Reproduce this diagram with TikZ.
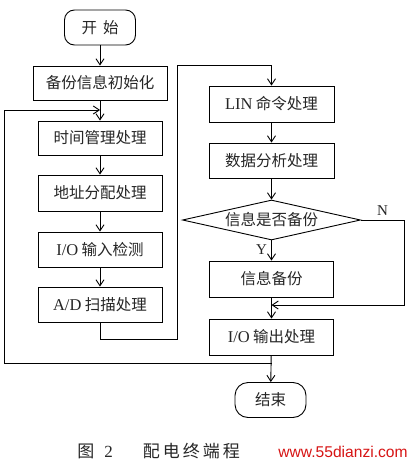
\documentclass[tikz,border=0pt]{standalone}
\usepackage{fontspec}
\setmainfont{Liberation Serif}
\newfontfamily\cjk{Noto Sans CJK SC}
\newfontfamily\wmfont{Liberation Sans}
\usetikzlibrary{arrows.meta,shapes.geometric}
\begin{document}
\begin{tikzpicture}[x=1pt,y=-1pt,
  line width=0.9pt,
  every node/.style={text=black!85},
  txt/.style={font=\fontsize{15.5}{18}\selectfont\cjk},
  proc/.style={draw, txt, rectangle, minimum width=124pt, minimum height=35pt, inner sep=0pt},
  term/.style={draw, txt, rectangle, rounded corners=10pt, minimum width=71pt, minimum height=35pt, inner sep=0pt},
  dec/.style={draw, txt, diamond, aspect=4.45, minimum width=178pt, minimum height=40pt, inner sep=0pt},
  arr/.style={-{Straight Barb[length=6pt,width=8pt]}},
  lbl/.style={font=\fontsize{15}{18}\selectfont, inner sep=0pt}
]
\useasboundingbox (0,0) rectangle (413,468);
\fill[white] (0,0) rectangle (413,468);

% left column
\node[term] (start) at (100,27.5) {开\hspace{6pt}始};
\node[proc, minimum width=134pt, minimum height=34pt] (init) at (100,83) {备份信息初始化};
\node[proc, minimum height=34pt] (t1) at (100,138) {时间管理处理};
\node[proc, minimum height=36pt] (t2) at (100,193) {地址分配处理};
\node[proc] (t3) at (100,249.5) {{\rmfamily\fontsize{16.5}{18}\selectfont I/O} 输入检测};
\node[proc] (t4) at (100,304.5) {{\rmfamily\fontsize{16.5}{18}\selectfont A/D} 扫描处理};

% right column
\node[proc, minimum width=125pt, minimum height=36pt] (r1) at (271.5,104) {{\rmfamily\fontsize{16.5}{18}\selectfont LIN} 命令处理};
\node[proc, minimum width=125pt] (r2) at (271.5,160.5) {数据分析处理};
\node[dec] (dia) at (271.5,220) {\raisebox{1pt}{信息是否备份}};
\node[proc, minimum height=36pt] (r3) at (271.5,279) {信息备份};
\node[proc, minimum height=36pt] (r4) at (271.5,337) {{\rmfamily\fontsize{16.5}{18}\selectfont I/O} 输出处理};
\node[term, rounded corners=13pt] (end) at (270.5,400) {结束};

% junction and bend coordinates
\coordinate (j1) at (100,110);
\coordinate (j2) at (271.5,363);
\coordinate (l1) at (4,363);
\coordinate (l2) at (4,110);
\coordinate (c1) at (177,339);
\coordinate (c2) at (177,65);
\coordinate (n1) at (404,220);
\coordinate (n2) at (404,305);
\coordinate (j3) at (271.5,305);

% connectors
\draw[arr] (start) -- (init);
\draw[arr] (init) -- (t1);
\draw[arr] (t1) -- (t2);
\draw[arr] (t2) -- (t3);
\draw[arr] (t3) -- (t4);
\draw[arr] (t4.south) |- (c1) -- (c2) -| (r1.north);
\draw[arr] (r1) -- (r2);
\draw[arr] (r2) -- (dia);
\draw[arr] (dia) -- node[lbl, pos=0.45, left=4pt] {Y} (r3);
\draw[arr] (r3) -- (r4);
\draw[arr] (dia.east) -- node[lbl, above=4pt, pos=0.5] {N} (n1) -- (n2) -- (j3);
\draw[arr] (r4) -- (end);
\draw[arr] (j2) -- (l1) -- (l2) -- (j1);

% caption
\node[anchor=west, inner sep=0pt, font=\fontsize{17}{20}\selectfont] (cap) at (77,451)
  {{\cjk 图}\hspace{10pt}2\hspace{30pt}{\cjk 配\hspace{3pt}电\hspace{3pt}终\hspace{3pt}端\hspace{3pt}程}};
\node[anchor=west, inner sep=0pt, text={rgb,255:red,215;green,20;blue,20}, font=\fontsize{15.6}{18}\selectfont\wmfont] (wm) at (278,452) {www.55dianzi.com};
\end{tikzpicture}
\end{document}
